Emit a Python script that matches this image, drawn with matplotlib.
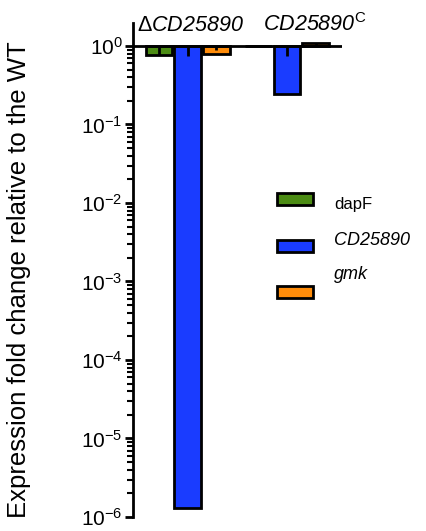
import matplotlib
matplotlib.use("Agg")
import matplotlib.pyplot as plt
import matplotlib.patches as mpatches
import numpy as np

plt.rcParams['font.family'] = ['Liberation Sans', 'DejaVu Sans']
plt.rcParams['mathtext.fontset'] = 'custom'
plt.rcParams['mathtext.rm'] = 'Liberation Sans'
plt.rcParams['mathtext.it'] = 'Liberation Sans:italic'
plt.rcParams['mathtext.sf'] = 'Liberation Sans:italic'
plt.rcParams['mathtext.bf'] = 'Liberation Sans:bold'

# datos
grupos = ['Δ$\\mathsf{CD25890}$', '$\\mathsf{CD25890}^{\\mathrm{C}}$']
genes = ['dapF', 'CD25890', 'gmk']
estilos = ['normal', 'italic', 'italic']
dapF = [0.77, 0.99]
cd25890 = [1.3e-6, 0.243]
gmk = [0.78, 1.1]
# extremo inferior de la barra de error
err_dapF = [0.77, 0.99]
err_cd25890 = [0.75, 0.75]
err_gmk = [0.9, 1.1]

colores = ['#4c8c14', '#1a3cff', '#ff8c0a']

fig = plt.figure(figsize=(4.26, 5.31), dpi=100)
ax = fig.add_axes([133/426, 1-517/531, 209/426, (517-22.7)/531])

x = np.arange(len(grupos))
w = 0.27
off = 0.287
series = [dapF, cd25890, gmk]
errs = [err_dapF, err_cd25890, err_gmk]
for i, (vals, lo, c) in enumerate(zip(series, errs, colores)):
    xs = x + (i-1)*off
    v = np.array(vals)
    ax.bar(xs, v-1, bottom=1, width=w, color=c, edgecolor='black', linewidth=2, zorder=2)
    ax.vlines(xs, lo, 1, color='black', linewidth=2, zorder=3)

ax.set_yscale('log')
ax.set_ylim(1e-6, 1.98)
ax.set_xlim(-0.548, 1.552)
ax.axhline(1, color='black', linewidth=2, zorder=4)

for s in ['top', 'right', 'bottom']:
    ax.spines[s].set_visible(False)
ax.spines['left'].set_linewidth(2)
ax.set_xticks([])
ax.set_yticks([10.0**k for k in range(-6, 1)])
ax.tick_params(axis='y', which='major', length=6, width=2, labelsize=15, pad=1.5)
ax.tick_params(axis='y', which='minor', length=4, width=1.5)

for xi, g in zip([-0.51, 0.76], grupos):
    ax.text(xi, 1.57, g, ha='left', va='baseline', fontsize=15.5, clip_on=False)

fig.text(19/426, 1-280/531, 'Expression fold change relative to the WT',
         rotation=90, ha='center', va='center', fontsize=18.5)

# leyenda
ys_patch = [199, 246, 292]
ys_text = [209, 245, 279]
tamanos = [12, 13, 13]
for c, lab, st, fs, yp, yt in zip(colores, genes, estilos, tamanos, ys_patch, ys_text):
    fig.patches.append(mpatches.Rectangle((277/426, 1-(yp+6)/531), 36/426, 12/531,
                                          facecolor=c, edgecolor='black', linewidth=2,
                                          transform=fig.transFigure))
    fig.text(334/426, 1-yt/531, lab, ha='left', va='baseline', fontsize=fs, style=st)

plt.savefig('out.png', dpi=100)
